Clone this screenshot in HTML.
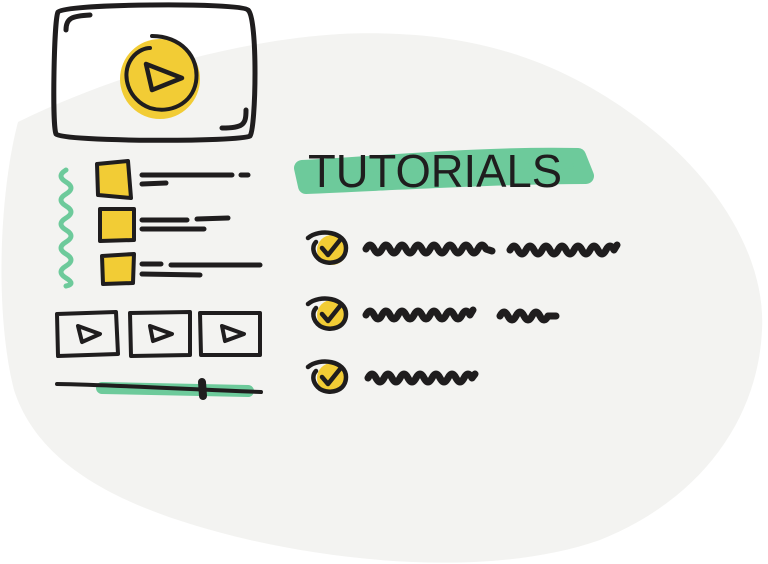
<!DOCTYPE html>
<html><head><meta charset="utf-8"><style>
html,body{margin:0;padding:0;background:#fff;width:768px;height:564px;overflow:hidden}
svg{display:block}
</style></head><body>
<svg width="768" height="564" viewBox="0 0 768 564" xmlns="http://www.w3.org/2000/svg">
<path d="M18 122 C120 72 240 40 340 34 C470 28 560 60 640 120 C720 180 766 260 762 330 C758 420 700 500 600 540 C500 575 360 565 250 540 C130 512 40 470 14 390 C-6 310 0 190 18 122 Z" fill="#f3f3f1"/>
<g fill="none" stroke="#1f1d1e" stroke-linecap="round" stroke-linejoin="round">
<path d="M58 12 C60 4 240 2 248 10 C258 18 256 128 250 136 C240 142 64 142 56 134 C52 124 54 20 58 12 Z" stroke-width="5"/>
<path d="M66 30 C66 18 72 16 90 15" stroke-width="5"/>
<path d="M246 110 C246 124 244 128 222 128" stroke-width="5"/>
</g>
<circle cx="160" cy="79" r="40" fill="#f2cc35"/>
<g fill="none" stroke="#1f1d1e" stroke-linecap="round" stroke-linejoin="round">
<path d="M152 36 C180 36 200 56 196 82 C192 104 170 114 150 108 C128 100 120 74 132 58 C138 50 146 48 150 48" stroke-width="4"/>
<path d="M146 64 L182 78 L152 90 Z" stroke-width="4.5"/>
</g>
<path d="M66 170 q-10 6 0 12 t0 12 t0 12 t0 12 t0 12 t0 12 t0 12 t0 12 t0 12 t0 8" fill="none" stroke="#6dca9b" stroke-width="5" stroke-linecap="round"/>
<g fill="#f2cc35" stroke="#1f1d1e" stroke-width="4" stroke-linejoin="round">
<path d="M97 164 L128 161 L131 198 L98 195 Z"/>
<path d="M100 209 L134 209 L134 240 L100 241 Z"/>
<path d="M102 256 L134 254 L133 283 L103 284 Z"/>
</g>
<g stroke="#1f1d1e" stroke-width="5" stroke-linecap="round" fill="none">
<path d="M142 175 L232 175 M241 175 L248 175 M142 184 L166 183"/>
<path d="M142 220 L187 220 M197 219 L228 218 M142 229 L204 229"/>
<path d="M142 264 L161 264 M171 265 L260 265 M142 274 L200 275"/>
</g>
<g fill="none" stroke="#1f1d1e" stroke-width="4" stroke-linecap="round" stroke-linejoin="round">
<path d="M57 314 L116 312 L118 354 L58 356 Z"/>
<path d="M130 313 L190 312 L190 355 L131 356 Z"/>
<path d="M200 313 L260 313 L260 355 L201 355 Z"/>
<path d="M78 326 L100 334 L82 342 Z"/>
<path d="M150 326 L172 334 L153 341 Z"/>
<path d="M222 326 L244 334 L225 341 Z"/>
</g>
<path d="M102 388 L248 391" stroke="#6dca9b" stroke-width="12" stroke-linecap="round"/>
<path d="M57 384 C120 385 200 390 261 392" stroke="#1f1d1e" stroke-width="4" stroke-linecap="round" fill="none"/>
<path d="M202 382 L203 396" stroke="#1f1d1e" stroke-width="8" stroke-linecap="round"/>
<path d="M302 168 C380 164 480 154 578 156 L586 176 C500 176 400 182 306 186 Z" fill="#6dca9b" stroke="#6dca9b" stroke-width="16" stroke-linejoin="round"/>
<text x="308" y="187" font-family="Liberation Sans Narrow, Liberation Sans, sans-serif" font-size="46" fill="#1f1d1e" textLength="254" lengthAdjust="spacingAndGlyphs">TUTORIALS</text>
<g>
<circle cx="332" cy="250" r="15" fill="#f2cc35"/>
<circle cx="332" cy="315" r="15" fill="#f2cc35"/>
<circle cx="332" cy="378" r="15" fill="#f2cc35"/>
</g>
<g fill="none" stroke="#1f1d1e" stroke-linecap="round" stroke-linejoin="round" stroke-width="4.5">
<path d="M308 238 C320 228 346 232 346 248 C346 262 330 266 320 260 C312 254 312 246 316 242"/>
<path d="M322 248 L328 255 L340 240"/>
<path d="M308 304 C320 294 346 298 346 314 C346 328 330 332 320 326 C312 320 312 312 316 308"/>
<path d="M322 314 L328 321 L340 306"/>
<path d="M308 367 C320 357 346 361 346 377 C346 391 330 395 320 389 C312 383 312 375 316 371"/>
<path d="M322 377 L328 384 L340 369"/>
</g>
<g fill="none" stroke="#1f1d1e" stroke-linecap="round" stroke-linejoin="round" stroke-width="7">
<path d="M366 249 q4 -8 8 0 t8 0 t8 0 t8 0 t8 0 t8 0 t8 0 t8 0 t8 0 t8 0 t8 0 t8 0 t8 0 t8 0 t8 0 l6 2"/>
<path d="M510 250 q4 -8 8 0 t8 0 t8 0 t8 0 t8 0 t8 0 t8 0 t8 0 t8 0 t8 0 t8 0 t8 0 t8 0 l3 -5"/>
<path d="M366 315 q4 -8 8 0 t8 0 t8 0 t8 0 t8 0 t8 0 t8 0 t8 0 t8 0 t8 0 t8 0 t8 0 t8 0 l3 -5"/>
<path d="M500 316 q4 -8 8 0 t8 0 t8 0 t8 0 t8 0 t8 0 l8 0"/>
<path d="M368 378 q4 -8 8 0 t8 0 t8 0 t8 0 t8 0 t8 0 t8 0 t8 0 t8 0 t8 0 t8 0 t8 0 t8 0 l3 -4"/>
</g>
</svg>
</body></html>
